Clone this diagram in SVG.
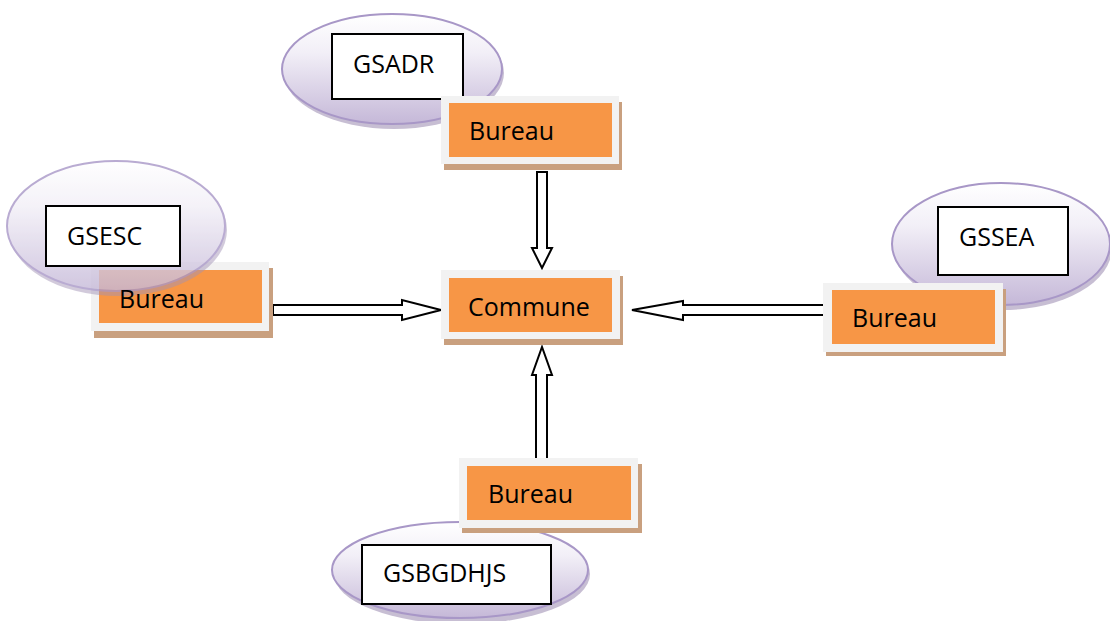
<svg xmlns="http://www.w3.org/2000/svg" width="1110" height="621" viewBox="0 0 1110 621">
  <defs>
    <linearGradient id="ovalFill" x1="0" y1="0" x2="0" y2="1">
      <stop offset="0" stop-color="#ffffff"/>
      <stop offset="0.35" stop-color="#f2eff7"/>
      <stop offset="1" stop-color="#c5b8d8"/>
    </linearGradient>
    <style>
      .bg { fill: #ffffff; }
      .shadow { fill: #c9a07f; }
      .frame { fill: #f2f2f2; }
      .box { fill: #f79646; }
      .oval-shadow { fill: #a192b5; opacity: 0.6; }
      .oval { fill: url(#ovalFill); stroke: #a897c7; stroke-width: 2; }
      .tag { fill: #ffffff; stroke: #000000; stroke-width: 2; }
      .lbl { font-family: "Open Sans", "Liberation Sans", sans-serif; font-size: 25px; fill: #000000; }
      .arrow { fill: #ffffff; stroke: #000000; stroke-width: 2; stroke-linejoin: miter; }
    </style>
  </defs>

  <rect class="bg" x="0" y="0" width="1110" height="621"/>

  <!-- connectors: hollow block arrows pointing at the commune -->
  <g id="connectors">
    <path class="arrow" d="M537,172 H547 V248 H552 L542,268 L532,248 H537 Z"/>
    <path class="arrow" d="M273,305 H402 V300 L441,310 L402,320 V315 H273 Z"/>
    <path class="arrow" d="M826,305 H683 V301 L632,310 L683,320 V315 H826 Z"/>
    <path class="arrow" d="M536,460 V375 H532 L542,347 L552,375 H547 V460 Z"/>
  </g>

  <!-- GSADR -->
  <g id="gsadr">
    <ellipse class="oval-shadow" cx="394" cy="73" rx="110" ry="56"/>
    <ellipse class="oval" cx="392" cy="69" rx="110" ry="55"/>
    <rect class="tag" x="332" y="34" width="131" height="65"/>
    <text class="lbl" x="353" y="73">GSADR</text>
  </g>
  <g id="bureau-gsadr">
    <rect class="shadow" x="444" y="102" width="178" height="68"/>
    <rect class="frame" x="441" y="96" width="178" height="68"/>
    <rect class="box" x="449" y="103" width="163" height="54"/>
    <text class="lbl" x="469" y="140">Bureau</text>
  </g>

  <!-- GSESC -->
  <g id="bureau-gsesc">
    <rect class="shadow" x="94" y="268" width="179" height="70"/>
    <rect class="frame" x="91" y="262" width="178" height="69"/>
    <rect class="box" x="99" y="270" width="163" height="53"/>
  </g>
  <g id="gsesc">
    <g opacity="0.8">
      <ellipse class="oval-shadow" cx="118" cy="230" rx="109" ry="66"/>
      <ellipse class="oval" cx="116" cy="226" rx="109" ry="65"/>
    </g>
    <rect class="tag" x="46" y="206" width="134" height="60"/>
    <text class="lbl" x="67" y="245">GSESC</text>
    <text class="lbl" x="119" y="308">Bureau</text>
  </g>

  <!-- GSSEA -->
  <g id="gssea">
    <ellipse class="oval-shadow" cx="1003" cy="248" rx="109" ry="62"/>
    <ellipse class="oval" cx="1001" cy="244" rx="109" ry="61"/>
    <rect class="tag" x="938" y="207" width="130" height="68"/>
    <text class="lbl" x="959" y="246">GSSEA</text>
  </g>
  <g id="bureau-gssea">
    <rect class="shadow" x="826" y="289" width="180" height="67"/>
    <rect class="frame" x="823" y="283" width="180" height="69"/>
    <rect class="box" x="832" y="290" width="163" height="54"/>
    <text class="lbl" x="852" y="327">Bureau</text>
  </g>

  <!-- central commune -->
  <g id="commune">
    <rect class="shadow" x="444" y="276" width="179" height="69"/>
    <rect class="frame" x="441" y="270" width="179" height="69"/>
    <rect class="box" x="449" y="278" width="163" height="54"/>
    <text class="lbl" x="468" y="316">Commune</text>
  </g>

  <!-- GSBGDHJS -->
  <g id="gsbgdhjs">
    <ellipse class="oval-shadow" cx="462" cy="574" rx="128" ry="50"/>
    <ellipse class="oval" cx="460" cy="570" rx="128" ry="48"/>
    <rect class="tag" x="362" y="545" width="189" height="59"/>
    <text class="lbl" x="383" y="582">GSBGDHJS</text>
  </g>
  <g id="bureau-gsbgdhjs">
    <rect class="shadow" x="462" y="464" width="180" height="69"/>
    <rect class="frame" x="459" y="458" width="179" height="70"/>
    <rect class="box" x="467" y="466" width="164" height="54"/>
    <text class="lbl" x="488" y="503">Bureau</text>
  </g>
</svg>
